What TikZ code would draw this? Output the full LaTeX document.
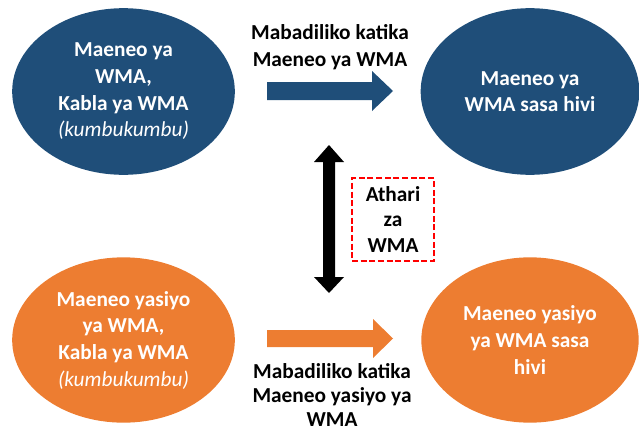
\documentclass[tikz,border=0pt]{standalone}
\usepackage{fontspec}
\setmainfont{Carlito}
\usetikzlibrary{shapes.geometric}
\usetikzlibrary{positioning}

\definecolor{wmaBlue}{HTML}{1F4E79}
\definecolor{wmaOrange}{HTML}{ED7D31}

\begin{document}
\begin{tikzpicture}[x=0.75pt, y=-0.75pt,
	ovalStyle/.style={ellipse, inner sep=0pt, text=white, align=center, font=\fontsize{16}{20}\selectfont\bfseries},
	labelStyle/.style={align=center, font=\fontsize{16}{20}\selectfont\bfseries}]
			\useasboundingbox (0,0) rectangle (639,432);

			% Top row
			\node[ovalStyle, fill=wmaBlue, minimum width=167pt, minimum height=125pt] (wmaBefore) at (123.5, 91.5) {Maeneo ya\\WMA,\\Kabla ya WMA\\{\mdseries\itshape (kumbukumbu)}};
			\node[ovalStyle, fill=wmaBlue, minimum width=164pt, minimum height=125pt] (wmaNow) at (530, 91.5) {Maeneo ya\\WMA sasa hivi};

			% Bottom row
			\node[ovalStyle, fill=wmaOrange, minimum width=167pt, minimum height=124pt] (otherBefore) at (123.5, 340) {Maeneo yasiyo\\ya WMA,\\Kabla ya WMA\\{\mdseries\itshape (kumbukumbu)}};
			\node[ovalStyle, fill=wmaOrange, minimum width=163pt, minimum height=124pt] (otherNow) at (530, 340) {Maeneo yasiyo\\ya WMA sasa\\hivi};

			% Labels
			\node[labelStyle] (wmaChange) at (330, 47) {Mabadiliko katika\\Maeneo ya WMA};
			\node[labelStyle, inner sep=0pt, font=\fontsize{16}{18}\selectfont\bfseries] (otherChange) at (332, 395) {Mabadiliko katika\\Maeneo yasiyo ya\\WMA};
			\node[labelStyle, font=\fontsize{16}{19}\selectfont\bfseries, draw=red, line width=1.1pt, dash pattern=on 4.5pt off 2pt, minimum width=61.5pt, minimum height=62pt] (impact) at (393, 219.5) {Athari\\za\\WMA};

			% Block arrows
			\fill[wmaBlue] (267, 82) -- (372, 82) -- (372, 71) -- (393, 91) -- (372, 111) -- (372, 100) -- (267, 100) -- cycle;
			\fill[wmaOrange] (267, 330) -- (373, 330) -- (373, 319) -- (393, 338.5) -- (373, 358) -- (373, 347) -- (267, 347) -- cycle;
			\fill[black] (323, 162) -- (314, 162) -- (329, 145) -- (344, 162) -- (335, 162) -- (335, 277) -- (344, 277) -- (329, 293) -- (314, 277) -- (323, 277) -- cycle;

		\end{tikzpicture}
\end{document}
